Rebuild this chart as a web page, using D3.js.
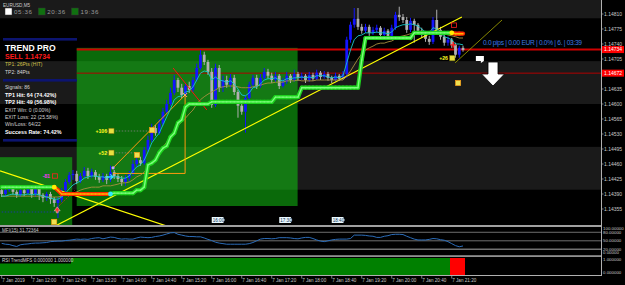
<!DOCTYPE html>
<html><head><meta charset="utf-8">
<script src="https://cdn.jsdelivr.net/npm/d3@7"></script>
<style>html,body{margin:0;padding:0;background:#000;overflow:hidden}svg{display:block}text{font-family:'Liberation Sans',Arial,sans-serif}</style>
</head><body><svg id="c" width="625" height="285"></svg>
<script>
// ---------- DATA ----------
const open=[1.14399,1.14390,1.14399,1.14406,1.14395,1.14388,1.14399,1.14392,1.14402,1.14390,
1.14404,1.14388,1.14381,1.14390,1.14378,1.14369,1.14376,1.14399,1.14418,1.14434,
1.14437,1.14420,1.14432,1.14444,1.14432,1.14441,1.14430,1.14423,1.14432,1.14423,
1.14441,1.14432,1.14425,1.14418,1.14427,1.14437,1.14460,1.14469,1.14462,1.14493,
1.14516,1.14544,1.14532,1.14554,1.14582,1.14600,1.14626,1.14656,1.14638,1.14621,
1.14642,1.14633,1.14656,1.14684,1.14715,1.14698,1.14675,1.14598,1.14684,1.14638,
1.14656,1.14645,1.14661,1.14628,1.14596,1.14582,1.14614,1.14645,1.14661,1.14642,
1.14661,1.14675,1.14666,1.14656,1.14666,1.14642,1.14652,1.14666,1.14656,1.14670,
1.14661,1.14666,1.14656,1.14668,1.14659,1.14673,1.14663,1.14670,1.14661,1.14656,
1.14666,1.14659,1.14670,1.14750,1.14785,1.14799,1.14780,1.14771,1.14780,1.14766,
1.14773,1.14778,1.14761,1.14771,1.14759,1.14778,1.14808,1.14803,1.14796,1.14773,
1.14794,1.14785,1.14771,1.14761,1.14752,1.14745,1.14796,1.14773,1.14757,1.14743,
1.14750,1.14738,1.14715,1.14731];
const high=[1.14406,1.14404,1.14411,1.14411,1.14399,1.14404,1.14406,1.14406,1.14406,1.14411,
1.14409,1.14392,1.14395,1.14395,1.14383,1.14383,1.14404,1.14425,1.14441,1.14446,
1.14444,1.14439,1.14453,1.14451,1.14449,1.14446,1.14437,1.14439,1.14437,1.14456,
1.14446,1.14439,1.14432,1.14434,1.14444,1.14469,1.14479,1.14477,1.14500,1.14526,
1.14554,1.14551,1.14565,1.14591,1.14610,1.14638,1.14668,1.14661,1.14647,1.14649,
1.14652,1.14663,1.14694,1.14726,1.14722,1.14703,1.14684,1.14694,1.14691,1.14666,
1.14666,1.14670,1.14668,1.14633,1.14603,1.14621,1.14652,1.14668,1.14668,1.14670,
1.14684,1.14682,1.14673,1.14675,1.14670,1.14661,1.14675,1.14670,1.14680,1.14675,
1.14673,1.14670,1.14675,1.14673,1.14680,1.14677,1.14677,1.14675,1.14666,1.14673,
1.14670,1.14677,1.14757,1.14792,1.14824,1.14824,1.14787,1.14787,1.14785,1.14780,
1.14785,1.14782,1.14778,1.14775,1.14785,1.14815,1.14827,1.14810,1.14803,1.14801,
1.14799,1.14789,1.14778,1.14768,1.14759,1.14803,1.14820,1.14780,1.14764,1.14757,
1.14754,1.14743,1.14736,1.14736];
const low=[1.14383,1.14385,1.14395,1.14388,1.14381,1.14383,1.14385,1.14388,1.14381,1.14383,
1.14376,1.14371,1.14374,1.14367,1.14360,1.14334,1.14371,1.14395,1.14413,1.14423,
1.14413,1.14416,1.14427,1.14425,1.14427,1.14423,1.14416,1.14418,1.14413,1.14418,
1.14425,1.14418,1.14409,1.14409,1.14420,1.14432,1.14453,1.14456,1.14458,1.14488,
1.14511,1.14526,1.14528,1.14549,1.14577,1.14596,1.14621,1.14628,1.14614,1.14617,
1.14626,1.14628,1.14652,1.14680,1.14691,1.14668,1.14591,1.14593,1.14628,1.14628,
1.14638,1.14638,1.14621,1.14568,1.14575,1.14533,1.14610,1.14638,1.14635,1.14638,
1.14656,1.14659,1.14649,1.14652,1.14635,1.14638,1.14647,1.14649,1.14652,1.14654,
1.14656,1.14649,1.14652,1.14654,1.14656,1.14656,1.14659,1.14654,1.14649,1.14652,
1.14654,1.14656,1.14661,1.14743,1.14778,1.14773,1.14764,1.14766,1.14759,1.14761,
1.14766,1.14754,1.14757,1.14752,1.14754,1.14773,1.14794,1.14789,1.14766,1.14768,
1.14743,1.14764,1.14754,1.14745,1.14738,1.14740,1.14766,1.14750,1.14736,1.14736,
1.14731,1.14708,1.14708,1.14722];
const close=[1.14390,1.14399,1.14406,1.14395,1.14388,1.14399,1.14392,1.14402,1.14390,1.14404,
1.14388,1.14381,1.14390,1.14378,1.14369,1.14376,1.14399,1.14418,1.14434,1.14437,
1.14420,1.14432,1.14444,1.14432,1.14441,1.14430,1.14423,1.14432,1.14423,1.14441,
1.14432,1.14425,1.14418,1.14427,1.14437,1.14460,1.14469,1.14462,1.14493,1.14516,
1.14544,1.14532,1.14554,1.14582,1.14600,1.14626,1.14656,1.14638,1.14621,1.14642,
1.14633,1.14656,1.14684,1.14715,1.14698,1.14675,1.14598,1.14684,1.14638,1.14656,
1.14645,1.14661,1.14628,1.14596,1.14582,1.14614,1.14645,1.14661,1.14642,1.14661,
1.14675,1.14666,1.14656,1.14666,1.14642,1.14652,1.14666,1.14656,1.14670,1.14661,
1.14666,1.14656,1.14668,1.14659,1.14673,1.14663,1.14670,1.14661,1.14656,1.14666,
1.14659,1.14670,1.14750,1.14785,1.14799,1.14780,1.14771,1.14780,1.14766,1.14773,
1.14778,1.14761,1.14771,1.14759,1.14778,1.14808,1.14803,1.14796,1.14773,1.14794,
1.14785,1.14771,1.14761,1.14752,1.14745,1.14796,1.14773,1.14757,1.14743,1.14750,
1.14738,1.14715,1.14731,1.14726];
const fastMA=[1.14385,1.14385,1.14388,1.14390,1.14388,1.14388,1.14388,1.14390,1.14388,1.14390,
1.14388,1.14385,1.14383,1.14381,1.14378,1.14378,1.14383,1.14392,1.14402,1.14411,
1.14416,1.14420,1.14427,1.14430,1.14432,1.14432,1.14430,1.14430,1.14427,1.14430,
1.14430,1.14430,1.14427,1.14427,1.14432,1.14444,1.14453,1.14458,1.14469,1.14488,
1.14509,1.14521,1.14532,1.14551,1.14570,1.14588,1.14610,1.14617,1.14619,1.14628,
1.14630,1.14640,1.14656,1.14672,1.14677,1.14675,1.14656,1.14663,1.14656,1.14654,
1.14651,1.14654,1.14647,1.14635,1.14621,1.14619,1.14626,1.14638,1.14640,1.14647,
1.14656,1.14659,1.14659,1.14661,1.14656,1.14654,1.14659,1.14659,1.14661,1.14661,
1.14663,1.14661,1.14663,1.14661,1.14666,1.14666,1.14666,1.14663,1.14661,1.14663,
1.14661,1.14666,1.14696,1.14726,1.14750,1.14759,1.14761,1.14766,1.14766,1.14766,
1.14768,1.14766,1.14766,1.14764,1.14768,1.14778,1.14782,1.14785,1.14785,1.14787,
1.14785,1.14782,1.14775,1.14768,1.14766,1.14778,1.14775,1.14766,1.14757,1.14754,
1.14750,1.14740,1.14740,1.14738];
const slowMA=[1.14385,1.14385,1.14385,1.14385,1.14385,1.14385,1.14385,1.14385,1.14385,1.14385,
1.14385,1.14385,1.14383,1.14383,1.14383,1.14383,1.14385,1.14388,1.14390,1.14392,
1.14395,1.14399,1.14402,1.14404,1.14406,1.14406,1.14406,1.14409,1.14409,1.14409,
1.14411,1.14413,1.14416,1.14416,1.14418,1.14423,1.14430,1.14434,1.14441,1.14451,
1.14462,1.14474,1.14488,1.14500,1.14511,1.14523,1.14537,1.14549,1.14558,1.14567,
1.14577,1.14586,1.14600,1.14610,1.14617,1.14623,1.14628,1.14633,1.14638,1.14640,
1.14642,1.14642,1.14642,1.14640,1.14638,1.14638,1.14638,1.14640,1.14642,1.14644,
1.14647,1.14649,1.14649,1.14651,1.14651,1.14651,1.14654,1.14654,1.14654,1.14656,
1.14654,1.14654,1.14654,1.14654,1.14656,1.14656,1.14656,1.14656,1.14656,1.14656,
1.14656,1.14656,1.14665,1.14677,1.14691,1.14705,1.14717,1.14726,1.14731,1.14735,
1.14740,1.14742,1.14742,1.14745,1.14747,1.14752,1.14757,1.14759,1.14761,1.14764,
1.14764,1.14766,1.14766,1.14766,1.14766,1.14768,1.14768,1.14766,1.14764,1.14761,
1.14759,1.14757,1.14754,1.14754];
const trendStop=[1.14406,1.14406,1.14406,1.14406,1.14406,1.14406,1.14406,1.14406,1.14406,1.14406,
1.14406,1.14406,1.14406,1.14406,1.14406,1.14399,1.14390,1.14390,1.14390,1.14390,
1.14390,1.14390,1.14390,1.14390,1.14390,1.14390,1.14390,1.14390,1.14390,1.14390,
1.14392,1.14392,1.14392,1.14392,1.14392,1.14392,1.14399,1.14399,1.14406,1.14458,
1.14462,1.14469,1.14486,1.14497,1.14502,1.14523,1.14532,1.14556,1.14563,1.14593,
1.14600,1.14600,1.14600,1.14600,1.14600,1.14600,1.14605,1.14605,1.14605,1.14605,
1.14605,1.14605,1.14605,1.14605,1.14605,1.14605,1.14605,1.14605,1.14605,1.14605,
1.14605,1.14605,1.14605,1.14616,1.14616,1.14616,1.14616,1.14616,1.14616,1.14616,
1.14638,1.14638,1.14638,1.14638,1.14638,1.14638,1.14638,1.14638,1.14638,1.14638,
1.14638,1.14638,1.14638,1.14638,1.14638,1.14638,1.14703,1.14754,1.14754,1.14754,
1.14754,1.14754,1.14754,1.14754,1.14754,1.14754,1.14754,1.14754,1.14754,1.14754,
1.14766,1.14766,1.14766,1.14766,1.14766,1.14766,1.14766,1.14766,1.14766,1.14766,
1.14766,1.14764,1.14764,1.14764];
const trendDir=[1,1,1,1,1,1,1,1,1,1, 1,1,1,1,1,-1,-1,-1,-1,-1, -1,-1,-1,-1,-1,-1,-1,-1,-1,-1,
1,1,1,1,1,1,1,1,1,1, 1,1,1,1,1,1,1,1,1,1, 1,1,1,1,1,1,1,1,1,1, 1,1,1,1,1,1,1,1,1,1,
1,1,1,1,1,1,1,1,1,1, 1,1,1,1,1,1,1,1,1,1, 1,1,1,1,1,1,1,1,1,1, 1,1,1,1,1,1,1,1,1,1,
1,1,1,1,1,1,1,1,1,1, 1,-1,-1,-1];
const mfi=[41,38,37,33,30,36,38,39,41,42, 42,43,44,47,48,49,49,51,52,54,
56,55,56,55,58,60,61,57,60,63, 62,58,56,57,56,56,60,63,62,61,
62,65,67,70,74,78,79,73,70,67, 65,65,64,64,60,55,51,45,42,40,
38,38,38,38,38,38,40,44,50,56, 58,58,57,58,61,61,61,60,58,57,
60,62,62,58,53,49,47,50,53,55, 56,56,56,58,70,70,70,69,67,66,
62,62,66,68,72,73,73,72,66,61, 56,53,53,53,55,58,57,54,52,47,
40,33,29,31.72364];
const rsiTrend=[1,1,1,1,1,1,1,1,1,1, 1,1,1,1,1,1,1,1,1,1, 1,1,1,1,1,1,1,1,1,1, 1,1,1,1,1,1,1,1,1,1,
1,1,1,1,1,1,1,1,1,1, 1,1,1,1,1,1,1,1,1,1, 1,1,1,1,1,1,1,1,1,1, 1,1,1,1,1,1,1,1,1,1,
1,1,1,1,1,1,1,1,1,1, 1,1,1,1,1,1,1,1,1,1, 1,1,1,1,1,1,1,1,1,1, 1,1,1,1,1,1,1,1,1,1,
-1,-1,-1,-1];
const timeLabels=["7 Jan 2019","7 Jan 12:00","7 Jan 12:40","7 Jan 13:20","7 Jan 14:00","7 Jan 14:40","7 Jan 15:20","7 Jan 16:00","7 Jan 16:40","7 Jan 17:20","7 Jan 18:00","7 Jan 18:40","7 Jan 19:20","7 Jan 20:00","7 Jan 20:40","7 Jan 21:20"];
const timeLabelBars=[0,8,16,24,32,40,48,56,64,72,80,88,96,104,112,120];
const priceTicks=[1.14810,1.14775,1.14740,1.14705,1.14635,1.14600,1.14565,1.14530,1.14495,1.14460,1.14425,1.14390,1.14355];
const zoneBands=[[1.14400,1.14500],[1.14600,1.14700],[1.14800,1.14900]];
const tradeBoxes=[{b0:-0.6,b1:18.8,top:1.14476,bot:1.14300},{b0:20,b1:78.9,top:1.14731,bot:1.14362}];
const levelLines=[{price:1.14727,b0:20,color:'#d00000',w:2,label:'1.14734'},{price:1.14672,b0:20,color:'#b00000',w:1,label:'1.14672'}];
const objLines=[
 {b0:-0.45,p0:1.14444,b1:44.1,p1:1.14315,color:'#ffff00',w:1.2},
 {b0:14.2,p0:1.14315,b1:122.7,p1:1.14803,color:'#ffff00',w:1.2},
 {b0:120.9,p0:1.14696,b1:133.4,p1:1.14796,color:'#a8a800',w:0.8},
 {b0:45.7,p0:1.14684,b1:54.7,p1:1.14586,color:'#ff1010',w:1},
 {b0:29.7,p0:1.14451,b1:48.9,p1:1.14621,color:'#ff9a10',w:1},
 {b0:29.7,p0:1.14438,b1:48.9,p1:1.14438,color:'#ff9a10',w:1},
 {b0:48.9,p0:1.14438,b1:48.9,p1:1.14621,color:'#ff9a10',w:1}];
const dotLines=[
 {b0:28,p0:1.14537,b1:40,p1:1.14537,color:'#808080'},
 {b0:28,p0:1.14486,b1:36,p1:1.14486,color:'#808080'},
 {b0:0,p0:1.14348,b1:14,p1:1.14348,color:'#2030c0'},
 {b0:14.8,p0:1.14358,b1:19.5,p1:1.14399,color:'#ff2020'}];
const profitLabels=[{bar:28.1,price:1.14537,text:'+106'},{bar:28.1,price:1.14486,text:'+52'},{bar:119,price:1.14707,text:'+26'}];
const tpBoxes=[{bar:36.1,price:1.14481},{bar:40.1,price:1.14539},{bar:121.7,price:1.14649},{bar:14,price:1.14325}];
const sessionTags=[{bar:56,text:'16:00'},{bar:74,text:'17:30'},{bar:88,text:'18:40'}];
const panelLines=[
 {t:'TREND PRO',c:'#ffffff',s:8.6,b:1,y:50.5},
 {t:'SELL 1.14734',c:'#ff1a1a',s:7,b:1,y:58.5},
 {t:'TP1: 26Pts (HIT)',c:'#d2c24a',s:5,b:0,y:65.8},
 {t:'TP2: 84Pts',c:'#d8d8d8',s:5,b:0,y:73.5},
 {t:'Signals: 86',c:'#d8d8d8',s:5,b:0,y:88.8},
 {t:'TP1 Hit: 64 (74.42%)',c:'#ffffff',s:5.4,b:1,y:96.9},
 {t:'TP2 Hit: 49 (56.98%)',c:'#ffffff',s:5.4,b:1,y:104.2},
 {t:'EXIT Win: 0 (0.00%)',c:'#d0d0d0',s:5,b:0,y:111.8},
 {t:'EXIT Loss: 22 (25.58%)',c:'#d0d0d0',s:5,b:0,y:119.1},
 {t:'Win/Loss: 64/22',c:'#d0d0d0',s:5,b:0,y:126.1},
 {t:'Success Rate: 74.42%',c:'#ffffff',s:5.4,b:1,y:134.2}];
const headerTimes=[{t:'05:36',c:'#ffffff'},{t:'20:36',c:'#107010'},{t:'19:36',c:'#107010'}];
const mfiLevels=[80,50,20];
const mfiAxis=[100,80,50,20,0];

// ---------- SCALES ----------
const svg=d3.select('#c');
const R=601, MB=225;
const x=d3.scaleLinear().domain([0,123]).range([1.7,463]);
const y=d3.scaleLinear().domain([1.14355,1.14810]).range([209,14]);
const ym=d3.scaleLinear().domain([0,100]).range([255,226.6]);
const n=close.length;
const bars=d3.range(n).map(i=>({i,o:open[i],h:high[i],l:low[i],c:close[i]}));

svg.append('rect').attr('width',625).attr('height',285).attr('fill','#000');
const defs=svg.append('defs');
defs.append('clipPath').attr('id','mc').append('rect').attr('x',0).attr('y',0).attr('width',R).attr('height',MB);
const main=svg.append('g').attr('clip-path','url(#mc)');

main.selectAll('rect.band').data(zoneBands).join('rect')
 .attr('x',0).attr('width',R).attr('y',d=>y(d[1])).attr('height',d=>y(d[0])-y(d[1])).attr('fill','#1a1a1a');
tradeBoxes.forEach((b,k)=>{
 const gx=x(b.b0), gw=x(b.b1)-x(b.b0);
 main.append('rect').attr('x',gx).attr('width',gw).attr('y',y(b.top)).attr('height',y(b.bot)-y(b.top)).attr('fill','#0a6a0a');
 defs.append('clipPath').attr('id','tb'+k).append('rect').attr('x',gx).attr('width',gw).attr('y',y(b.top)).attr('height',y(b.bot)-y(b.top));
 main.append('g').attr('clip-path',`url(#tb${k})`).selectAll('rect').data(zoneBands).join('rect')
  .attr('x',0).attr('width',R).attr('y',d=>y(d[1])).attr('height',d=>y(d[0])-y(d[1])).attr('fill','rgba(120,255,120,0.10)');
});
main.selectAll('line.lvl').data(levelLines).join('line')
 .attr('x1',d=>x(d.b0)).attr('x2',R).attr('y1',d=>y(d.price)).attr('y2',d=>y(d.price)).attr('stroke',d=>d.color).attr('stroke-width',d=>d.w);
main.selectAll('line.dl').data(dotLines).join('line')
 .attr('x1',d=>x(d.b0)).attr('x2',d=>x(d.b1)).attr('y1',d=>y(d.p0)).attr('y2',d=>y(d.p1)).attr('stroke',d=>d.color).attr('stroke-width',0.8).attr('stroke-dasharray','1.5,1.5');

const bull='#1414ff', bear='#b0b0b0';
main.selectAll('line.wick').data(bars).join('line')
 .attr('x1',d=>x(d.i)).attr('x2',d=>x(d.i)).attr('y1',d=>y(d.h)).attr('y2',d=>y(d.l))
 .attr('stroke',d=>d.c>=d.o?bull:bear).attr('stroke-width',1);
main.selectAll('rect.body').data(bars).join('rect')
 .attr('x',d=>x(d.i)-1.4).attr('width',2.8).attr('y',d=>y(Math.max(d.o,d.c)))
 .attr('height',d=>Math.max(1,Math.abs(y(d.o)-y(d.c)))).attr('fill',d=>d.c>=d.o?bull:bear);

main.selectAll('line.obj').data(objLines).join('line')
 .attr('x1',d=>x(d.b0)).attr('x2',d=>x(d.b1)).attr('y1',d=>y(d.p0)).attr('y2',d=>y(d.p1)).attr('stroke',d=>d.color).attr('stroke-width',d=>d.w);

const ln=arr=>d3.line().x((d,i)=>x(i)).y(d=>y(d))(arr);
main.append('path').attr('d',ln(slowMA)).attr('fill','none').attr('stroke','#a89040').attr('stroke-width',0.9);
main.append('path').attr('d',ln(fastMA)).attr('fill','none').attr('stroke','#18c8c8').attr('stroke-width',0.9);

const segs=d3.range(1,n).map(i=>({i,dir:trendDir[i]}));
const tg=main.append('g');
tg.selectAll('line.o').data(segs).join('line')
 .attr('x1',d=>x(d.i-1)).attr('x2',d=>x(d.i)).attr('y1',d=>y(trendStop[d.i-1])).attr('y2',d=>y(trendStop[d.i]))
 .attr('stroke',d=>d.dir>0?'#1ed21e':'#ff2a00').attr('stroke-width',4.2).attr('stroke-linecap','round');
tg.selectAll('line.in').data(segs).join('line')
 .attr('x1',d=>x(d.i-1)).attr('x2',d=>x(d.i)).attr('y1',d=>y(trendStop[d.i-1])).attr('y2',d=>y(trendStop[d.i]))
 .attr('stroke',d=>d.dir>0?'#7dff7d':'#ffb000').attr('stroke-width',1.4).attr('stroke-linecap','round');
const flips=d3.range(1,n).filter(i=>trendDir[i]!==trendDir[i-1]).map(i=>({i:i-1,col:trendDir[i]<0?'#ffee00':'#30e8ff'}));
tg.selectAll('circle').data(flips).join('circle').attr('cx',d=>x(d.i)).attr('cy',d=>y(trendStop[d.i])).attr('r',2.4).attr('fill',d=>d.col);

const mk=main.append('g');
mk.selectAll('text.pl').data(profitLabels).join('text').attr('x',d=>x(d.bar)).attr('y',d=>y(d.price)+1.8)
 .attr('text-anchor','end').attr('font-size',5.2).attr('font-weight','bold').attr('fill','#ffff20').text(d=>d.text);
mk.selectAll('rect.pb').data(profitLabels).join('rect').attr('x',d=>x(d.bar)+1.5).attr('y',d=>y(d.price)-2.8).attr('width',5.5).attr('height',5.5)
 .attr('fill','#e8e040').attr('stroke','#606000').attr('stroke-width',0.5);
mk.selectAll('rect.tp').data(tpBoxes).join('rect').attr('x',d=>x(d.bar)-2.6).attr('y',d=>y(d.price)-2.6).attr('width',5.2).attr('height',5.2)
 .attr('fill','#f0e050').attr('stroke','#ff9a10').attr('stroke-width',0.6);
const glyph=[{bar:120.6,price:1.14784,k:'xbox'},{bar:120.4,price:1.14738,k:'cross'},{bar:14.2,price:1.14432,k:'xbox'},{bar:28.9,price:1.14430,k:'arrow'},{bar:14.8,price:1.14353,k:'up'},{bar:29.7,price:1.14451,k:'dot'},{bar:48.9,price:1.14621,k:'ox'}];
glyph.forEach(g=>{
 const gx=x(g.bar), gy=y(g.price);
 if(g.k==='xbox'){mk.append('rect').attr('x',gx-2.5).attr('y',gy-2.2).attr('width',5).attr('height',4.4).attr('fill','none').attr('stroke','#ff2020').attr('stroke-width',0.8);}
 if(g.k==='cross'){mk.append('path').attr('d',`M${gx-3},${gy}H${gx+3}M${gx},${gy-3}V${gy+3}`).attr('stroke','#ff2020').attr('stroke-width',1.4);}
 if(g.k==='arrow'){mk.append('path').attr('d',`M${gx-4},${gy}H${gx+2}M${gx},${gy-2.5}L${gx+3},${gy}L${gx},${gy+2.5}`).attr('stroke','#30e0ff').attr('stroke-width',1.2).attr('fill','none');}
 if(g.k==='up'){mk.append('path').attr('d',`M${gx},${gy-3}L${gx+3},${gy+1}L${gx+1},${gy+1}V${gy+3}H${gx-1}V${gy+1}L${gx-3},${gy+1}Z`).attr('fill','#ff3030').attr('stroke','#ffffff').attr('stroke-width',0.4);}
 if(g.k==='dot'){mk.append('circle').attr('cx',gx).attr('cy',gy).attr('r',1.6).attr('fill','#c0a0ff');}
 if(g.k==='ox'){mk.append('path').attr('d',`M${gx-2},${gy-2}L${gx+2},${gy+2}M${gx+2},${gy-2}L${gx-2},${gy+2}`).attr('stroke','#ffb060').attr('stroke-width',1);}
});
mk.append('text').attr('x',x(12.9)).attr('y',y(1.14432)+1.8).attr('text-anchor','end').attr('font-size',5).attr('font-weight','bold').attr('fill','#ff30ff').text('-81');
const st=mk.selectAll('g.st').data(sessionTags).join('g').attr('transform',d=>`translate(${x(d.bar)},217)`);
st.append('path').attr('d','M0,0H11.5L13,3L11.5,6H0Z').attr('fill','#e8f8ff');
st.append('text').attr('x',1).attr('y',4.8).attr('font-size',4.6).attr('fill','#103050').text(d=>d.text);

const arrowAt={bar:131,price:1.14642};
const ax=x(arrowAt.bar), ay=y(arrowAt.price);
svg.append('path').attr('d',`M${ax-5},${ay-24}H${ax+5}V${ay-12}H${ax+11.5}L${ax},${ay}L${ax-11.5},${ay-12}H${ax-5}Z`).attr('fill','#ffffff').attr('stroke','#000').attr('stroke-width',0.8);
const tagAt={bar:127.5,price:1.14705};
const tx=x(tagAt.bar), ty=y(tagAt.price);
svg.append('path').attr('d',`M${tx-4},${ty-3}H${tx+4}V${ty+2}L${tx+1},${ty+4}V${ty+2}H${tx-4}Z`).attr('fill','#ffffff');
svg.append('text').attr('x',483).attr('y',y(1.14742)+2.3).attr('font-size',6.6).attr('fill','#3a7ae0').attr('textLength',99).text('0.0 pips | 0.00 EUR | 0.0% | 6. | 03:39');

svg.append('text').attr('x',3).attr('y',6.5).attr('font-size',4.6).attr('fill','#c8c8c8').text('EURUSD,M5');
headerTimes.forEach((h,k)=>{
 const hx=5+k*33.2;
 svg.append('rect').attr('x',hx).attr('y',8).attr('width',7).attr('height',7).attr('fill',h.c).attr('stroke','#303030').attr('stroke-width',0.5);
 svg.append('text').attr('x',hx+9).attr('y',14).attr('font-size',6.2).attr('fill','#9a9a9a').attr('textLength',18).text(h.t);
});
[38,79,139].forEach(sy=>svg.append('rect').attr('x',3).attr('y',sy).attr('width',74).attr('height',2.6).attr('fill','#0c1470'));
svg.selectAll('text.pn').data(panelLines).join('text').attr('x',5).attr('y',d=>d.y).attr('font-size',d=>d.s)
 .attr('font-weight',d=>d.b?'bold':'normal').attr('fill',d=>d.c).text(d=>d.t);

svg.append('line').attr('x1',R+0.5).attr('x2',R+0.5).attr('y1',0).attr('y2',276).attr('stroke','#b0b0b0').attr('stroke-width',1);
svg.append('rect').attr('x',0).attr('y',225).attr('width',R).attr('height',2).attr('fill','#a0a0a0');
svg.append('rect').attr('x',0).attr('y',255.2).attr('width',R).attr('height',1.8).attr('fill','#909090');
svg.append('line').attr('x1',0).attr('x2',R+1).attr('y1',275.5).attr('y2',275.5).attr('stroke','#b0b0b0');

svg.selectAll('text.pt').data(priceTicks).join('text').attr('x',604).attr('y',d=>y(d)+1.8).attr('font-size',5).attr('fill','#c8c8c8').text(d=>d.toFixed(5));
svg.selectAll('line.ptk').data(priceTicks).join('line').attr('x1',R).attr('x2',R+2.5).attr('y1',d=>y(d)).attr('y2',d=>y(d)).attr('stroke','#b0b0b0').attr('stroke-width',0.7);
levelLines.forEach(l=>{
 svg.append('rect').attr('x',602).attr('y',y(l.price)-3.5).attr('width',22).attr('height',7).attr('fill','#ff0000');
 svg.append('text').attr('x',604).attr('y',y(l.price)+1.8).attr('font-size',5).attr('fill','#ffffff').text(l.label);
});

svg.selectAll('line.ml').data(mfiLevels).join('line').attr('x1',0).attr('x2',R).attr('y1',d=>ym(d)).attr('y2',d=>ym(d))
 .attr('stroke',d=>d===20?'#707070':'#8a8a8a').attr('stroke-width',d=>d===20?1.5:0.8);
svg.append('path').attr('d',d3.line().x((d,i)=>x(i)).y(d=>ym(d))(mfi)).attr('fill','none').attr('stroke','#2b6cb8').attr('stroke-width',1);
svg.append('text').attr('x',2).attr('y',231.5).attr('font-size',4.6).attr('fill','#c8c8c8').text('MFI(15) 31.72364');
svg.selectAll('text.ma').data(mfiAxis).join('text').attr('x',603).attr('y',d=>Math.min(Math.max(ym(d),228.6),252.8)+1.6)
 .attr('font-size',4.4).attr('fill','#c8c8c8').text(d=>d.toFixed(5));

const rb=d3.range(n).map(i=>({i,v:rsiTrend[i]}));
svg.append('g').attr('shape-rendering','crispEdges').selectAll('rect.rs').data(rb).join('rect')
 .attr('x',d=>x(d.i)-1.9).attr('width',4.3).attr('y',257.5).attr('height',17.5)
 .attr('fill',d=>d.v>0?'#008000':'#ff0000');
svg.append('rect').attr('x',0).attr('y',257.5).attr('width',71).attr('height',6).attr('fill','#000');
svg.append('text').attr('x',2).attr('y',262.3).attr('font-size',4.6).attr('fill','#d0d0d0').text('RSI TrendMFS 0.000000 1.000000');
svg.append('text').attr('x',603).attr('y',260.9).attr('font-size',4.4).attr('fill','#c8c8c8').text('1.000000');
svg.append('text').attr('x',603).attr('y',273.9).attr('font-size',4.4).attr('fill','#c8c8c8').text('0.000000');

svg.selectAll('line.tt').data(timeLabelBars).join('line').attr('x1',d=>x(d)).attr('x2',d=>x(d)).attr('y1',275.5).attr('y2',278.5).attr('stroke','#b0b0b0').attr('stroke-width',0.7);
svg.selectAll('text.tl').data(timeLabelBars).join('text').attr('x',d=>x(d)+0.5).attr('y',282.3).attr('font-size',4.6).attr('fill','#c8c8c8').text((d,i)=>timeLabels[i]);
</script></body></html>
